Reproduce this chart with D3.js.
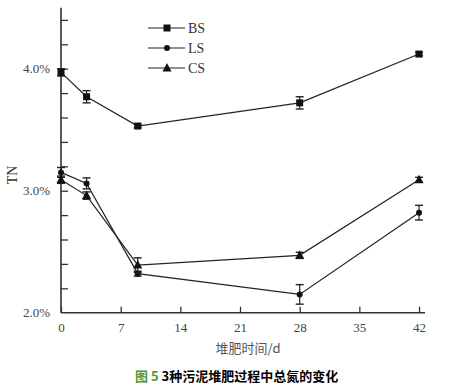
<!DOCTYPE html>
<html>
<head>
<meta charset="utf-8">
<script src="https://cdn.jsdelivr.net/npm/d3@7/dist/d3.min.js"></script>
<style>
  body { margin: 0; background: #fff; }
  svg text { font-family: "Liberation Serif", "Times New Roman", serif; fill: #333; }
</style>
</head>
<body>
<svg id="chartSVG" width="457" height="386"></svg>
<script>
// composting days
var days = [0, 3, 9, 28, 42];
// TN (%) per sludge, with error bars
var seriesNames = ["BS", "LS", "CS"];
var bsValues = [3.97, 3.77, 3.53, 3.72, 4.12];
var bsErrors = [0.03, 0.05, 0.015, 0.05, 0.015];
var lsValues = [3.15, 3.06, 2.32, 2.15, 2.82];
var lsErrors = [0.04, 0.045, 0.02, 0.08, 0.06];
var csValues = [3.09, 2.96, 2.39, 2.47, 3.09];
var csErrors = [0.03, 0.03, 0.06, 0.025, 0.02];
var xTicks = [0, 7, 14, 21, 28, 35, 42];
var yMajor = [2.0, 3.0, 4.0];

var svg = d3.select("#chartSVG");
var axisColour = "#333";

var x = d3.scaleLinear().domain([0, 42.7]).range([61, 425]);
var y = d3.scaleLinear().domain([2.0, 4.5]).range([312.7, 7.7]);

var series = [
  { name: "BS", values: bsValues, errors: bsErrors, symbol: "square" },
  { name: "LS", values: lsValues, errors: lsErrors, symbol: "circle" },
  { name: "CS", values: csValues, errors: csErrors, symbol: "triangle" }
];

var drawMarker = function (g, symbol, cx, cy) {
  if (symbol == "square") {
    g.append("rect").attr("x", cx - 3.5).attr("y", cy - 3.5)
      .attr("width", 7).attr("height", 7).style("fill", "#111");
  } else if (symbol == "circle") {
    g.append("circle").attr("cx", cx).attr("cy", cy).attr("r", 3).style("fill", "#111");
  } else {
    g.append("path")
      .attr("d", "M" + cx + "," + (cy - 5) + "L" + (cx + 4.5) + "," + (cy + 3.5) + "L" + (cx - 4.5) + "," + (cy + 3.5) + "Z")
      .style("fill", "#111");
  }
};

// axes: left and bottom only, ticks inward
var xAxis = d3.axisBottom(x).tickValues(xTicks).tickSize(-6).tickPadding(10).tickSizeOuter(0);
var gx = svg.append("g").attr("transform", "translate(0," + y(2.0) + ")").call(xAxis);
gx.select(".domain").attr("d", "M" + x(0) + ",0H" + x(42.7));

var minorY = d3.range(0, 13).map(function (i) { return 2.0 + i * 0.2; });
var yAxis = d3.axisLeft(y).tickValues(minorY).tickSize(-7).tickPadding(11).tickSizeOuter(0)
  .tickFormat(function (d) {
    var hit = yMajor.some(function (m) { return Math.abs(m - d) < 1e-6; });
    return hit ? d.toFixed(1) + "%" : "";
  });
var gy = svg.append("g").attr("transform", "translate(" + x(0) + ",0)").call(yAxis);
gy.select(".domain").attr("d", "M0," + y(4.5) + "V" + y(2.0));

[gx, gy].forEach(function (g) {
  g.selectAll(".domain").style("stroke", axisColour).style("stroke-width", 1.6);
  g.selectAll(".tick line").style("stroke", axisColour).style("stroke-width", 1.3);
  g.selectAll(".tick text").style("font-size", "13px").style("fill", "#444")
    .style("font-family", "'Liberation Serif', serif");
});
gy.selectAll(".tick").filter(function (d) { return Math.abs(d - 2.0) < 1e-6; })
  .select("line").remove();

// series lines, error bars, markers
var line = d3.line()
  .x(function (d) { return x(d.day); })
  .y(function (d) { return y(d.v); });

series.forEach(function (s) {
  var pts = days.map(function (d, i) { return { day: d, v: s.values[i], e: s.errors[i] }; });
  var g = svg.append("g");
  g.append("path").datum(pts).attr("d", line)
    .style("fill", "none").style("stroke", "#222").style("stroke-width", 1.2);
  pts.forEach(function (p) {
    var cx = x(p.day), y1 = y(p.v + p.e), y2 = y(p.v - p.e);
    g.append("line").attr("x1", cx).attr("x2", cx).attr("y1", y1).attr("y2", y2)
      .style("stroke", "#222").style("stroke-width", 1.2);
    [y1, y2].forEach(function (yy) {
      g.append("line").attr("x1", cx - 4).attr("x2", cx + 4).attr("y1", yy).attr("y2", yy)
        .style("stroke", "#222").style("stroke-width", 1.4);
    });
    drawMarker(g, s.symbol, cx, y(p.v));
  });
});

// legend
var legendX = 148, legendY = 28;
series.forEach(function (s, i) {
  var ly = legendY + i * 20;
  svg.append("line").attr("x1", legendX).attr("x2", legendX + 37).attr("y1", ly).attr("y2", ly)
    .style("stroke", "#222").style("stroke-width", 1.2);
  drawMarker(svg, s.symbol, legendX + 19, ly);
  svg.append("text").attr("x", legendX + 40).attr("y", ly + 5)
    .style("font-size", "14px").text(s.name);
});

// axis titles
svg.append("text")
  .attr("transform", "translate(17,175) rotate(-90)")
  .attr("text-anchor", "middle")
  .style("font-size", "14px")
  .text("TN");
svg.append("text")
  .attr("x", 248).attr("y", 353)
  .attr("text-anchor", "middle")
  .style("font-size", "13px")
  .style("font-family", "'Noto Sans CJK SC', sans-serif")
  .style("fill", "#555")
  .text("堆肥时间/d");

// caption
var cap = svg.append("text").attr("x", 135).attr("y", 381)
  .style("font-size", "13px").style("font-weight", "bold")
  .style("font-family", "'Noto Sans CJK SC', sans-serif");
cap.append("tspan").style("fill", "#4f9a2e").text("图 5 ");
cap.append("tspan").style("fill", "#000").text("3种污泥堆肥过程中总氮的变化");
</script>
</body>
</html>
